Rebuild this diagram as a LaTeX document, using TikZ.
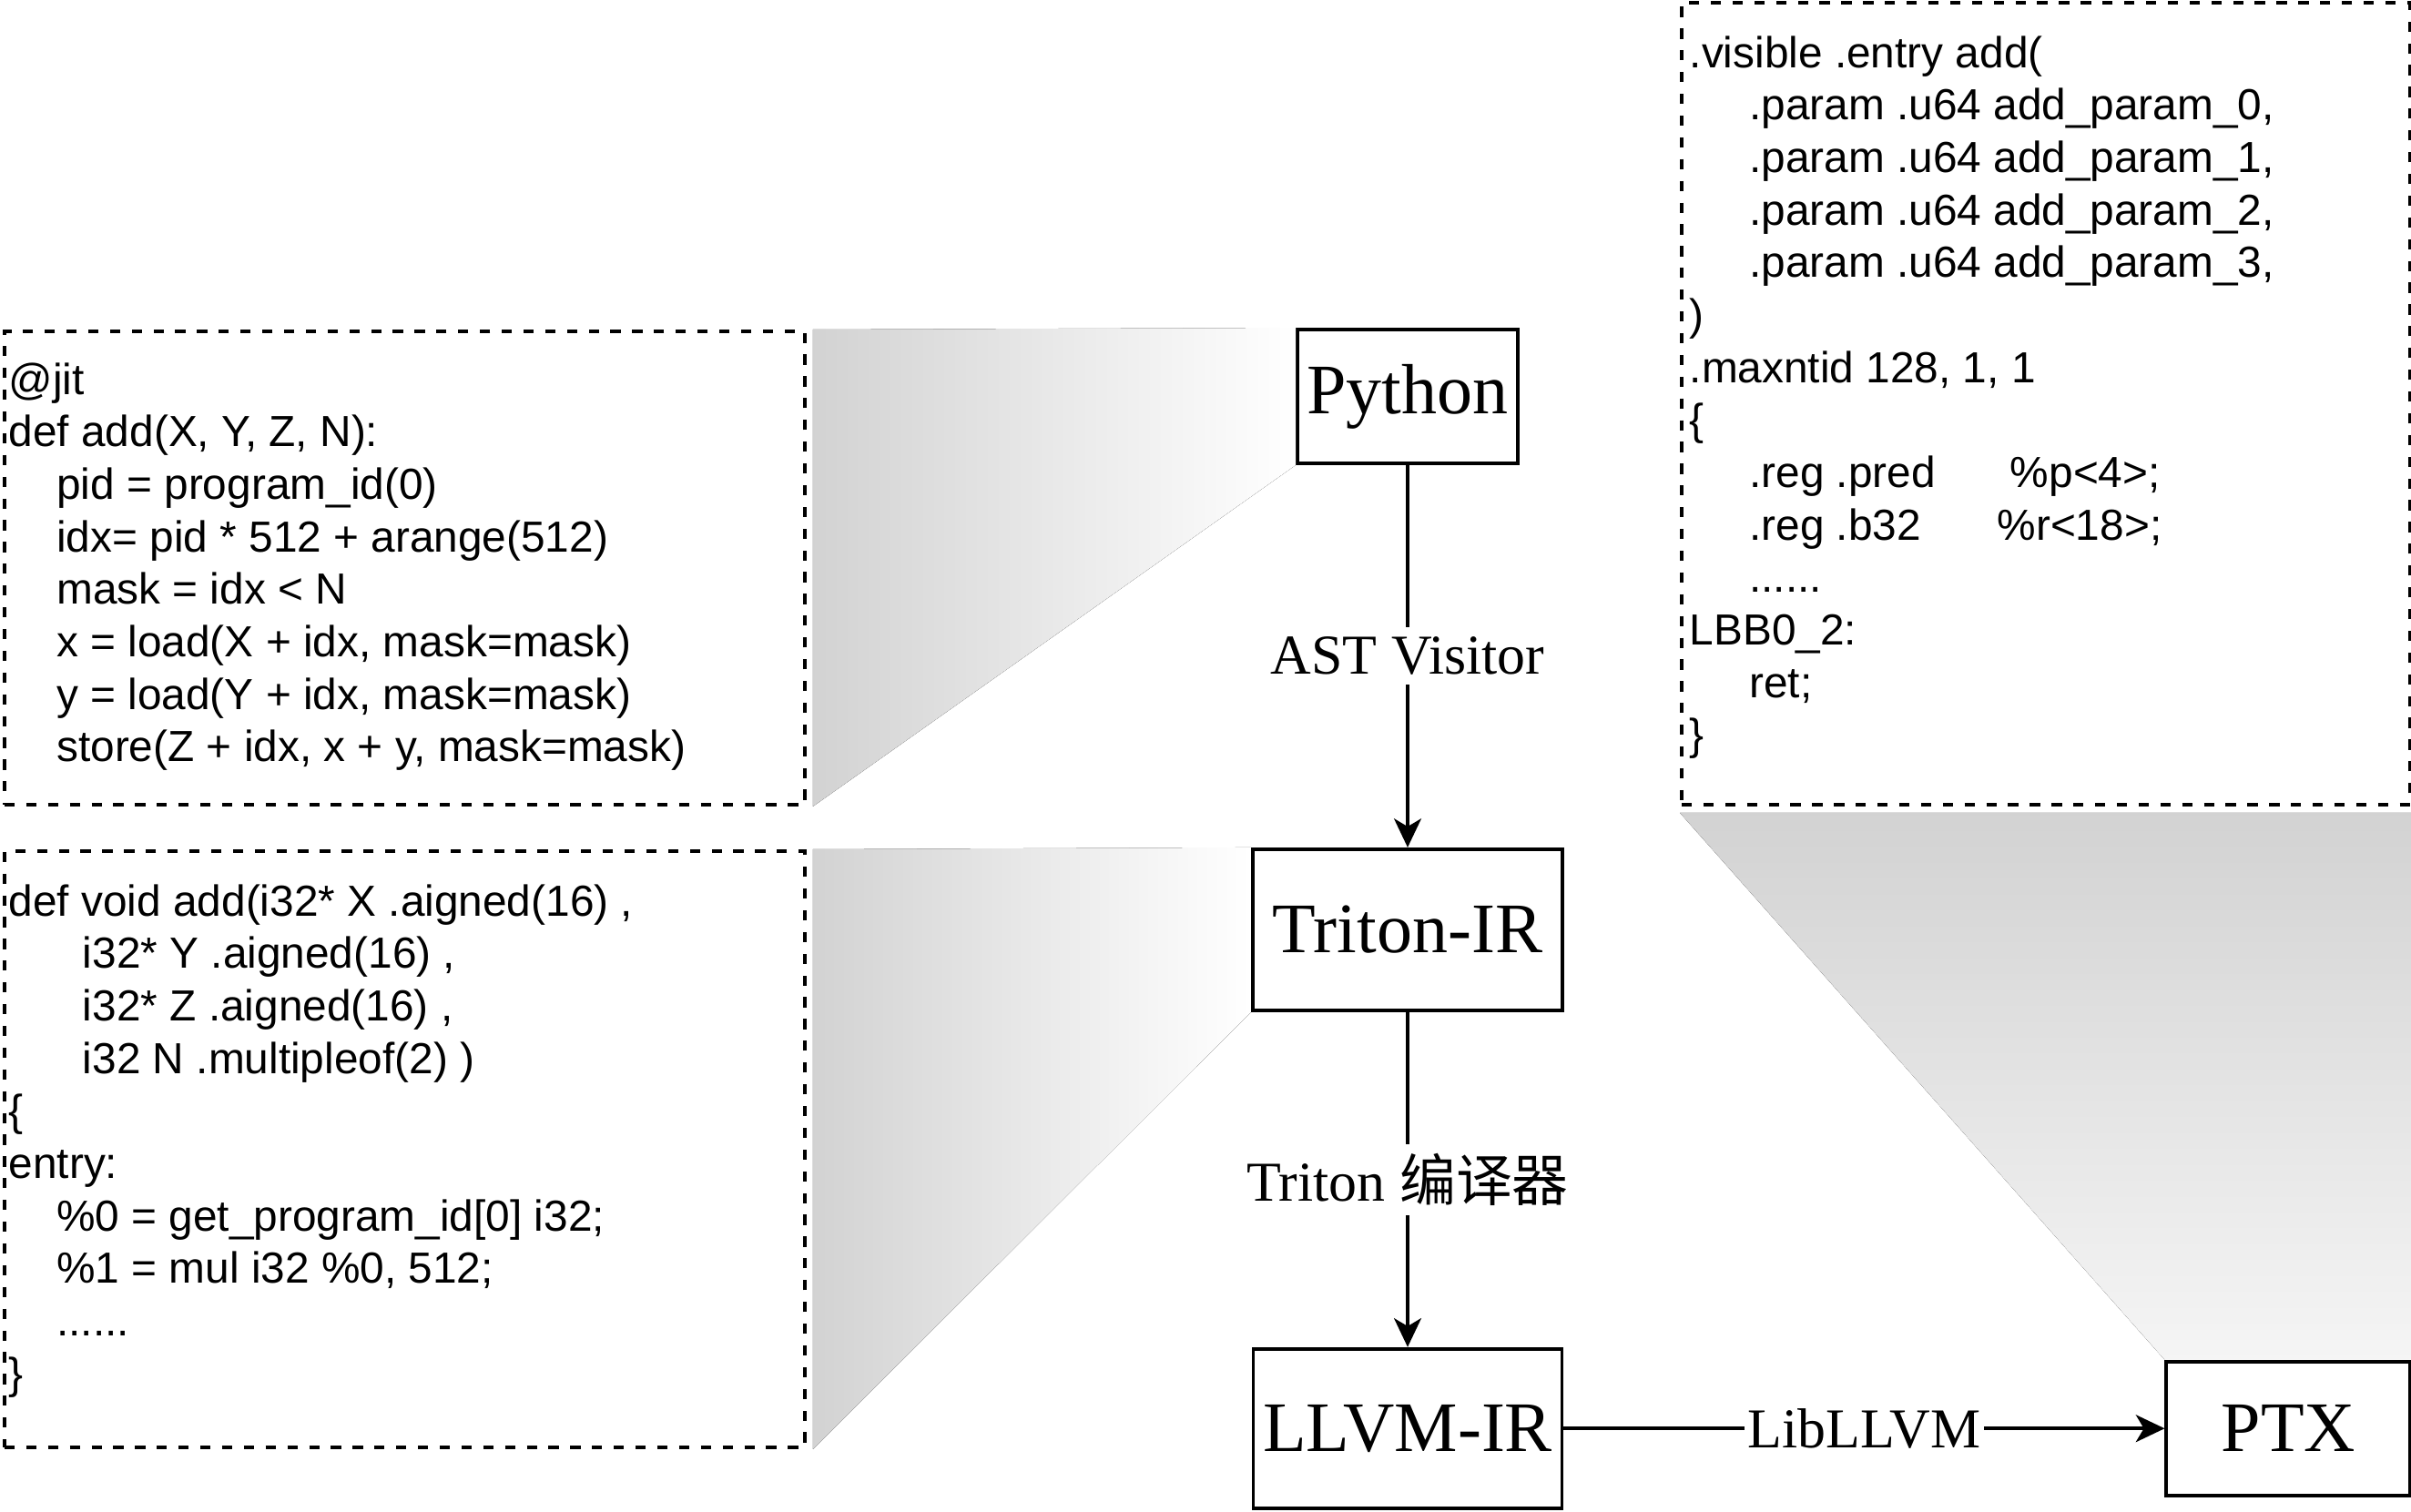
\documentclass[tikz,border=0pt]{standalone}
\usepackage{fontspec}
\setmainfont{Liberation Serif}
\setsansfont{Liberation Sans}
\newfontfamily\cjk{Noto Sans CJK SC}
\usetikzlibrary{arrows.meta,positioning}

\begin{document}
\begin{tikzpicture}[>={Stealth[length=9pt,width=8.5pt,inset=2.5pt]},
  stage/.style={draw,line width=1.1pt,fill=white,inner sep=0pt,font=\fontsize{22.2}{26}\selectfont},
  codebox/.style={draw,line width=1.1pt,dash pattern=on 3.2pt off 3.6pt,anchor=north west,inner sep=0pt},
  code/.style={font=\sffamily\fontsize{13.6}{16.4}\selectfont,align=left,anchor=north west,inner sep=0pt},
  flow/.style={->,line width=1.1pt},
  lbl/.style={fill=white,inner xsep=1pt,inner ysep=3pt,font=\fontsize{17.6}{20}\selectfont}]
\useasboundingbox (0,0) rectangle (26.48,16.60);

% compiler stages
\node[stage,minimum width=2.42cm,minimum height=1.47cm] (py) at (15.46,12.245) {Python};
\node[stage,minimum width=3.40cm,minimum height=1.77cm,below=4.20cm of py] (ir) {Triton-IR};
\node[stage,minimum width=3.39cm,minimum height=1.75cm,below=3.68cm of ir] (llvm) {LLVM-IR};
\node[stage,minimum width=2.68cm,minimum height=1.47cm,right=6.60cm of llvm] (ptx) {PTX};

% code listings
\node[codebox,minimum width=8.79cm,minimum height=5.20cm] (pysrc) at (0.03,12.98) {};
\node[codebox,minimum width=8.79cm,minimum height=6.55cm] (irsrc) at (0.03,7.27) {};
\node[codebox,minimum width=8.00cm,minimum height=8.81cm] (ptxsrc) at (18.45,16.59) {};

\fill[left color=gray!35,right color=white] ([xshift=2pt]pysrc.north east) -- (py.north west)
  -- (py.south west) -- ([xshift=2pt]pysrc.south east) -- cycle;
\fill[left color=gray!35,right color=white] ([xshift=2pt]irsrc.north east) -- (ir.north west)
  -- (ir.south west) -- ([xshift=2pt]irsrc.south east) -- cycle;
\fill[top color=gray!35,bottom color=gray!8] ([yshift=-2pt]ptxsrc.south west) -- ([yshift=-2pt]ptxsrc.south east)
  -- (ptx.north east) -- (ptx.north west) -- cycle;

\node[code] (pytxt) at ([shift={(0.06,-0.36)}]pysrc.north west) {@jit\\
def add(X, Y, Z, N):\\
\hspace*{1.1em}pid = program\_id(0)\\
\hspace*{1.1em}idx= pid * 512 + arange(512)\\
\hspace*{1.1em}mask = idx < N\\
\hspace*{1.1em}x = load(X + idx, mask=mask)\\
\hspace*{1.1em}y = load(Y + idx, mask=mask)\\
\hspace*{1.1em}store(Z + idx, x + y, mask=mask)};

\node[code] (irtxt) at ([shift={(0.06,-0.38)}]irsrc.north west) {def void add(i32* X .aigned(16) ,\\
\hspace*{1.7em}i32* Y .aigned(16) ,\\
\hspace*{1.7em}i32* Z .aigned(16) ,\\
\hspace*{1.7em}i32 N .multipleof(2) )\\
\{\\
entry:\\
\hspace*{1.1em}\%0 = get\_program\_id[0] i32;\\
\hspace*{1.1em}\%1 = mul i32 \%0, 512;\\
\hspace*{1.1em}......\\
\}};

\node[code] (ptxtxt) at ([shift={(0.10,-0.38)}]ptxsrc.north west) {.visible .entry add(\\
\hspace*{1.37em}.param .u64 add\_param\_0,\\
\hspace*{1.37em}.param .u64 add\_param\_1,\\
\hspace*{1.37em}.param .u64 add\_param\_2,\\
\hspace*{1.37em}.param .u64 add\_param\_3,\\
)\\
.maxntid 128, 1, 1\\
\{\\
\hspace*{1.37em}\makebox[6.0em][l]{.reg .pred}\%p<4>;\\
\hspace*{1.37em}\makebox[5.7em][l]{.reg .b32}\%r<18>;\\
\hspace*{1.37em}......\\
LBB0\_2:\\
\hspace*{1.37em}ret;\\
\}};

% passes
\draw[flow] (py) -- node[lbl] {AST Visitor} (ir);
\draw[flow] (ir) -- node[lbl] {Triton {\cjk 编译器}} (llvm);
\draw[flow] (llvm) -- node[lbl] {LibLLVM} (ptx);
\end{tikzpicture}
\end{document}
